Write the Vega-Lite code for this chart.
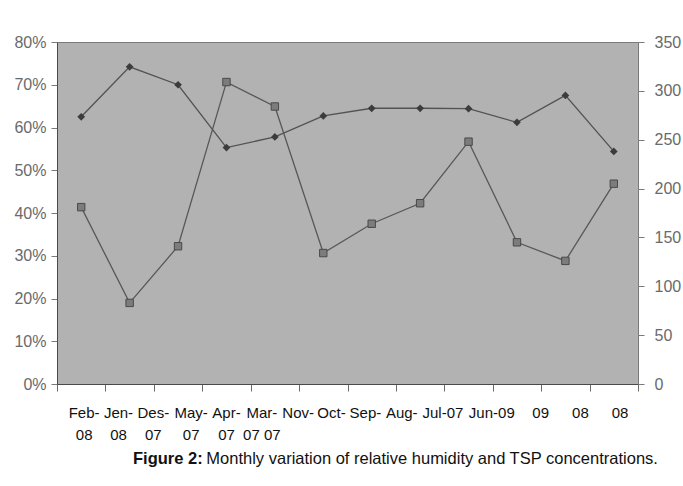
{
  "$schema": "https://vega.github.io/schema/vega-lite/v6.json",
  "autosize": "none",
  "width": 581,
  "height": 342,
  "padding": {"left": 57, "top": 42, "right": 45, "bottom": 102},
  "background": "white",
  "config": {
    "view": {"fill": "#b2b2b2", "stroke": "#7a7a7a", "strokeWidth": 1},
    "axis": {"grid": false}
  },
  "data": {
    "values": [
      {"idx": 1, "month": "Feb-08", "rh": 0.625, "tsp": 181},
      {"idx": 2, "month": "Jen-08", "rh": 0.742, "tsp": 83},
      {"idx": 3, "month": "Des-07", "rh": 0.700, "tsp": 141},
      {"idx": 4, "month": "May-07", "rh": 0.553, "tsp": 309},
      {"idx": 5, "month": "Apr-07", "rh": 0.578, "tsp": 284},
      {"idx": 6, "month": "Mar-07", "rh": 0.627, "tsp": 134},
      {"idx": 7, "month": "Nov-07", "rh": 0.645, "tsp": 164},
      {"idx": 8, "month": "Oct-07", "rh": 0.645, "tsp": 185},
      {"idx": 9, "month": "Sep-07", "rh": 0.644, "tsp": 248},
      {"idx": 10, "month": "Aug-07", "rh": 0.612, "tsp": 145},
      {"idx": 11, "month": "Jul-07", "rh": 0.675, "tsp": 126},
      {"idx": 12, "month": "Jun-09", "rh": 0.544, "tsp": 205}
    ]
  },
  "layer": [
    {
      "encoding": {
        "x": {
          "field": "idx", "type": "quantitative",
          "scale": {"domain": [0.5, 12.5], "nice": false, "zero": false},
          "axis": {
            "orient": "bottom",
            "values": [0.5, 1.5, 2.5, 3.5, 4.5, 5.5, 6.5, 7.5, 8.5, 9.5, 10.5, 11.5, 12.5],
            "labels": false, "ticks": true, "tickSize": 7, "tickColor": "#6a6a6a",
            "domain": true, "domainColor": "#4a4a4a", "title": null
          }
        },
        "y": {
          "field": "rh", "type": "quantitative",
          "scale": {"domain": [0, 0.8], "nice": false, "zero": true},
          "axis": {
            "orient": "left",
            "values": [0, 0.1, 0.2, 0.3, 0.4, 0.5, 0.6, 0.7, 0.8],
            "format": ".0%", "title": null,
            "labelFont": "Liberation Sans",
            "labelFontSize": 16, "labelColor": "#6a6a6a",
            "tickSize": 6, "tickColor": "#7a7a7a", "labelPadding": 5,
            "domainColor": "#4a4a4a"
          }
        }
      },
      "layer": [
        {"mark": {"type": "line", "color": "#525252", "strokeWidth": 1.3}},
        {"mark": {"type": "point", "shape": "diamond", "filled": true, "size": 60, "color": "#3c3c3c", "opacity": 1}}
      ]
    },
    {
      "encoding": {
        "x": {
          "field": "idx", "type": "quantitative",
          "scale": {"domain": [0.5, 12.5], "nice": false, "zero": false},
          "axis": {
            "orient": "bottom",
            "values": [1.05, 1.76, 2.48, 3.26, 3.99, 4.72, 5.47, 6.16, 6.86, 7.61, 8.46, 9.47, 10.48, 11.3, 12.12],
            "labelExpr": "datum.value < 1.5 ? ['Feb-', '08'] : datum.value < 2 ? ['Jen-', '08'] : datum.value < 3 ? ['Des-', '07'] : datum.value < 3.5 ? ['May-', '07'] : datum.value < 4.5 ? ['Apr-', '07'] : datum.value < 5 ? ['Mar-', '07 07'] : datum.value < 6 ? 'Nov-' : datum.value < 6.5 ? 'Oct-' : datum.value < 7.2 ? 'Sep-' : datum.value < 8 ? 'Aug-' : datum.value < 9 ? 'Jul-07' : datum.value < 10 ? 'Jun-09' : datum.value < 11 ? '09' : '08'",
            "ticks": false, "domain": false, "title": null,
            "labelFont": "Liberation Sans", "labelFontSize": 15, "labelColor": "#111111",
            "labelBaseline": "top", "labelAlign": "center", "labelLineHeight": 22,
            "labelPadding": 21, "labelOverlap": false, "labelFlush": false, "labelBound": false
          }
        },
        "y": {
          "field": "tsp", "type": "quantitative",
          "scale": {"domain": [0, 350], "nice": false, "zero": true},
          "axis": {
            "orient": "right",
            "values": [0, 50, 100, 150, 200, 250, 300, 350],
            "title": null,
            "labelFont": "Liberation Sans",
            "labelFontSize": 16, "labelColor": "#6a6a6a",
            "tickSize": 6, "tickColor": "#7a7a7a", "labelPadding": 10,
            "domain": false
          }
        }
      },
      "layer": [
        {"mark": {"type": "line", "color": "#585858", "strokeWidth": 1.3}},
        {"mark": {"type": "point", "shape": "square", "filled": true, "size": 55, "fill": "#7c7c7c", "stroke": "#4a4a4a", "strokeWidth": 1, "opacity": 1}}
      ]
    }
  ],
  "resolve": {"scale": {"y": "independent"}, "axis": {"x": "independent", "y": "independent"}},
  "title": {
    "text": "Figure 2:",
    "subtitle": "\u200b\u00a0\u00a0\u00a0\u00a0\u00a0\u00a0\u00a0\u00a0\u00a0\u00a0\u00a0\u00a0\u00a0\u00a0\u00a0\u00a0Monthly variation of relative humidity and TSP concentrations.",
    "orient": "bottom",
    "anchor": "start",
    "frame": "group",
    "dx": 76,
    "offset": 9,
    "font": "Liberation Sans",
    "fontSize": 16.5,
    "fontWeight": "bold",
    "color": "#111111",
    "subtitleFont": "Liberation Sans",
    "subtitleFontSize": 16.5,
    "subtitleFontWeight": "normal",
    "subtitleColor": "#111111",
    "subtitlePadding": -16.5
  }
}
